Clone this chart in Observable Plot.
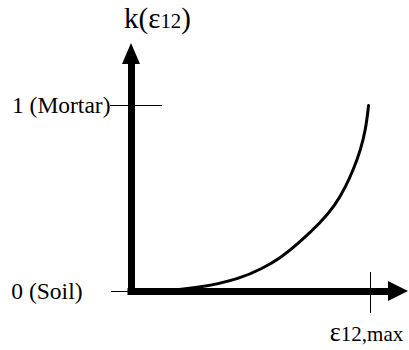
<!DOCTYPE html>
<html>
<head>
<meta charset="utf-8">
<script src="https://cdn.jsdelivr.net/npm/d3@7"></script>
<script src="https://cdn.jsdelivr.net/npm/@observablehq/plot@0.6"></script>
<style>
  html, body { margin: 0; padding: 0; background: #fff; }
  #chart svg { display: block; }
</style>
</head>
<body>
<div id="chart"></div>
<script>
// Normalized strain ε12 / ε12,max and the resulting k value
const strain = [0.12, 0.29, 0.456, 0.55, 0.623, 0.70, 0.791, 0.85, 0.895, 0.93, 0.958, 0.98, 0.992];
const kValue = [0.00, 0.02, 0.07, 0.125, 0.18, 0.26, 0.37, 0.46, 0.56, 0.66, 0.76, 0.87, 1.00];
const yTickValues = [0, 1];
const yTickLabels = ["0 (Soil)", "1 (Mortar)"];
const xTickValues = [1];
const xTickLabels = ["ε12,max"];
const yTitle = "k(ε12)";

const curveData = strain.map((s, i) => ({ s, k: kValue[i] }));

// pixel layout of the scales
const X0 = 131, X1 = 370, Y0 = 291, Y1 = 105;
const tx = px => (px - X0) / (X1 - X0);
const ky = py => (Y0 - py) / (Y0 - Y1);

// arrow geometry (in data units derived from pixels)
const yShaftTop = ky(64), yTip = ky(43), yHalf = tx(X0 + 9);
const xShaftEnd = tx(388), xTip = tx(408), xHalf = ky(Y0 - 10);

const upHead = [
  { x: -yHalf, y1: yShaftTop, y2: yShaftTop },
  { x: 0, y1: yShaftTop, y2: yTip },
  { x: yHalf, y1: yShaftTop, y2: yShaftTop }
];
const rightHead = [
  { y: -xHalf, x1: xShaftEnd, x2: xShaftEnd },
  { y: 0, x1: xShaftEnd, x2: xTip },
  { y: xHalf, x1: xShaftEnd, x2: xShaftEnd }
];

const font = "Liberation Serif";

const chart = Plot.plot({
  width: 409,
  height: 350,
  margin: 0,
  style: { fontFamily: font, background: "#fff", overflow: "visible" },
  x: { domain: [0, 1], range: [X0, X1], axis: null },
  y: { domain: [0, 1], range: [Y0, Y1], axis: null },
  marks: [
    // tick lines
    Plot.ruleY([yTickValues[1]], { x1: tx(110), x2: tx(162), stroke: "#000", strokeWidth: 1 }),
    Plot.ruleY([yTickValues[0]], { x1: tx(111), x2: 0, stroke: "#000", strokeWidth: 1 }),
    Plot.ruleX(xTickValues, { y1: ky(313), y2: ky(272), stroke: "#000", strokeWidth: 1 }),
    // axis shafts
    Plot.ruleX([0], { y1: ky(Y0 + 4), y2: yShaftTop, stroke: "#000", strokeWidth: 7, strokeLinecap: "butt" }),
    Plot.ruleY([0], { x1: tx(X0 - 3.5), x2: xShaftEnd, stroke: "#000", strokeWidth: 7, strokeLinecap: "butt" }),
    // arrowheads
    Plot.areaY(upHead, { x: "x", y1: "y1", y2: "y2", fill: "#000", curve: "linear" }),
    Plot.areaX(rightHead, { y: "y", x1: "x1", x2: "x2", fill: "#000", curve: "linear" }),
    // curve
    Plot.line(curveData, { x: "s", y: "k", stroke: "#000", strokeWidth: 3, curve: "basis" }),
    // labels
    Plot.text(yTickValues, { x: [tx(82), tx(110)], y: d => d, text: (d, i) => yTickLabels[i], textAnchor: "end", lineAnchor: "middle", fontSize: 23.5, fill: "#000" }),
    Plot.text(xTickValues, { x: d => d, y: ky(340), text: (d, i) => xTickLabels[i], textAnchor: "middle", lineAnchor: "bottom", fontSize: 21, fill: "#000", dx: -4, className: "xlabel" }),
    Plot.text([yTitle], { x: tx(157), y: ky(27), text: d => d, textAnchor: "middle", lineAnchor: "bottom", fontSize: 29, fill: "#000", className: "ytitle" })
  ]
});

document.getElementById("chart").appendChild(chart);

// Render the "12" in the title in a smaller size; enlarge ε in the x label
d3.select(chart).selectAll(".ytitle text").each(function () {
  const m = this.textContent.match(/^(.*ε)(12)(.*)$/);
  if (m) {
    this.textContent = "";
    const s = d3.select(this);
    s.append("tspan").text(m[1]);
    s.append("tspan").attr("font-size", "0.72em").text(m[2]);
    s.append("tspan").text(m[3]);
  }
});
d3.select(chart).selectAll(".xlabel text").each(function () {
  const m = this.textContent.match(/^(ε)(.*)$/);
  if (m) {
    this.textContent = "";
    const s = d3.select(this);
    s.append("tspan").attr("font-size", "1.25em").text(m[1]);
    s.append("tspan").text(m[2]);
  }
});
</script>
</body>
</html>
